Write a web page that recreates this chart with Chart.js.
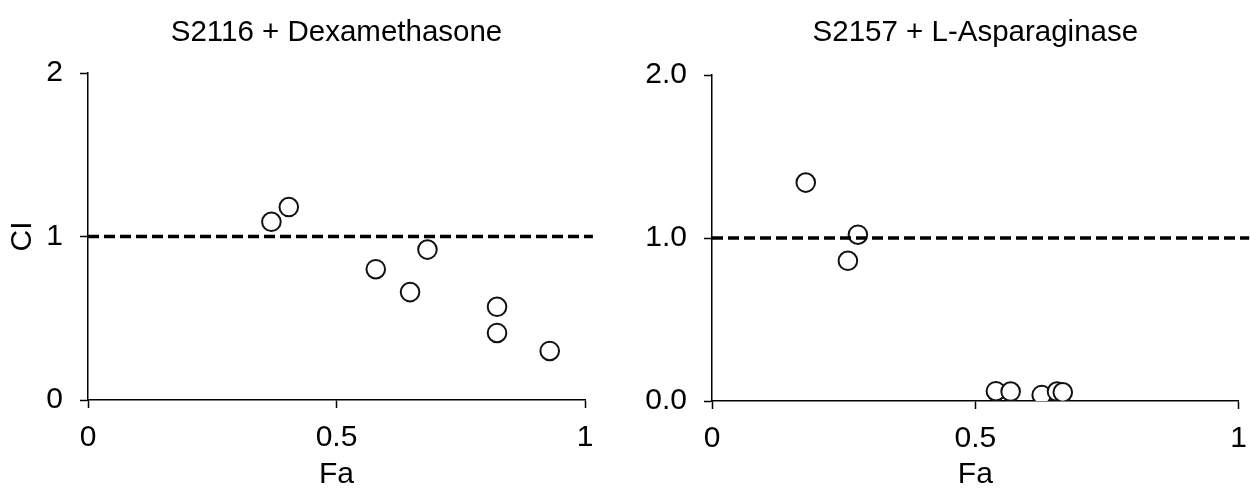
<!DOCTYPE html>
<html lang="en">

<head>
  <meta charset="UTF-8">
  <title>CI vs Fa</title>
  <script src="https://cdn.jsdelivr.net/npm/chart.js"></script>
  <style>
    html, body {
      margin: 0;
      padding: 0;
      background: #fff;
    }

    .paineis {
      position: relative;
      width: 1250px;
      height: 493px;
    }

    .painel {
      position: absolute;
      top: 0;
      width: 625px;
      height: 493px;
    }
  </style>
</head>

<body>
  <div class="paineis">
    <div class="painel" style="left: 0;">
      <canvas id="graficoDexa" width="625" height="493"></canvas>
    </div>
    <div class="painel" style="left: 625px;">
      <canvas id="graficoAspa" width="625" height="493"></canvas>
    </div>
  </div>

  <script>
    // S2116 + Dexamethasone
    const dexFa = [0.369, 0.404, 0.579, 0.648, 0.683, 0.823, 0.823, 0.929];
    const dexCI = [1.09, 1.18, 0.80, 0.66, 0.92, 0.57, 0.41, 0.30];

    // S2157 + L-Asparaginase
    const aspFa = [0.178, 0.258, 0.277, 0.539, 0.567, 0.626, 0.655, 0.666];
    const aspCI = [1.34, 0.86, 1.02, 0.06, 0.058, 0.037, 0.058, 0.053];

    // linha de referência CI = 1 (passa um pouco do fim do eixo)
    const dexRefFa = [0, 1.016];
    const aspRefFa = [0, 1.02];
    const refCI = [1, 1];

    const xTicks = [0, 0.5, 1];
    const xLabels = ['0', '0.5', '1'];
    const yTicks = [0, 1, 2];
    const dexYLabels = ['0', '1', '2'];
    const aspYLabels = ['0.0', '1.0', '2.0'];

    const fonte = 'Liberation Sans, Arial, sans-serif';

    function pontos(xs, ys) {
      return xs.map((x, i) => ({ x: x, y: ys[i] }));
    }

    // título centralizado sobre a área do gráfico (não sobre o canvas inteiro)
    function pluginTitulo(texto) {
      return {
        id: 'tituloPainel',
        afterDraw(chart) {
          const { ctx, chartArea } = chart;
          ctx.save();
          ctx.fillStyle = '#000';
          ctx.font = '29.5px ' + fonte;
          ctx.textAlign = 'center';
          ctx.textBaseline = 'middle';
          ctx.fillText(texto, (chartArea.left + chartArea.right) / 2, 33);
          ctx.restore();
        }
      };
    }

    function montarGrafico(id, titulo, fa, ci, refFa, yLabels, mostrarCI, area) {
      const ctx = document.getElementById(id);
      if (!ctx) return;

      new Chart(ctx, {
        type: 'scatter',
        data: {
          datasets: [
            {
              type: 'line',
              data: pontos(refFa, refCI),
              borderColor: '#000',
              borderWidth: 3.5,
              borderDash: [11, 5],
              pointRadius: 0,
              fill: false,
              clip: false,
              order: 0
            },
            {
              data: pontos(fa, ci),
              pointStyle: 'circle',
              pointRadius: 9.3,
              pointBackgroundColor: '#fff',
              pointBorderColor: '#111',
              pointBorderWidth: 2,
              order: 1
            }
          ]
        },
        plugins: [pluginTitulo(titulo)],
        options: {
          responsive: false,
          animation: false,
          events: [],
          layout: {
            padding: { left: 0, right: area.direita, top: area.topo, bottom: 0 }
          },
          plugins: {
            legend: { display: false },
            tooltip: { enabled: false },
            title: { display: false }
          },
          scales: {
            x: {
              type: 'linear',
              min: 0,
              max: 1,
              afterFit: (scale) => {
                scale.height = area.alturaX;
                scale.paddingLeft = 0;
                scale.paddingRight = 0;
              },
              afterBuildTicks: (scale) => { scale.ticks = xTicks.map(v => ({ value: v })); },
              border: { display: true, color: '#000', width: 1.5 },
              grid: {
                drawOnChartArea: false,
                drawTicks: true,
                tickLength: 8,
                tickColor: '#000',
                tickWidth: 1.5
              },
              ticks: {
                color: '#000',
                padding: 12,
                maxRotation: 0,
                font: { family: fonte, size: 30 },
                callback: (v) => xLabels[xTicks.indexOf(v)]
              },
              title: {
                display: true,
                text: 'Fa',
                color: '#000',
                font: { family: fonte, size: 30 },
                padding: { top: 0, bottom: 0 }
              }
            },
            y: {
              type: 'linear',
              min: 0,
              max: 2,
              afterFit: (scale) => { scale.width = area.larguraY; },
              afterBuildTicks: (scale) => { scale.ticks = yTicks.map(v => ({ value: v })); },
              border: { display: true, color: '#000', width: 1.5 },
              grid: {
                drawOnChartArea: false,
                drawTicks: true,
                tickLength: 8,
                tickColor: '#000',
                tickWidth: 1.5
              },
              ticks: {
                color: '#000',
                padding: 17,
                font: { family: fonte, size: 30 },
                callback: (v) => yLabels[yTicks.indexOf(v)]
              },
              title: {
                display: mostrarCI,
                text: 'CI',
                color: '#000',
                font: { family: fonte, size: 30 },
                padding: { top: 5, bottom: 0 }
              }
            }
          }
        }
      });
    }

    montarGrafico('graficoDexa', 'S2116 + Dexamethasone', dexFa, dexCI, dexRefFa, dexYLabels, true,
      { direita: 40, topo: 73, alturaX: 93, larguraY: 88 });

    montarGrafico('graficoAspa', 'S2157 + L-Asparaginase', aspFa, aspCI, aspRefFa, aspYLabels, false,
      { direita: 10, topo: 75, alturaX: 92, larguraY: 87 });
  </script>

</body>

</html>
